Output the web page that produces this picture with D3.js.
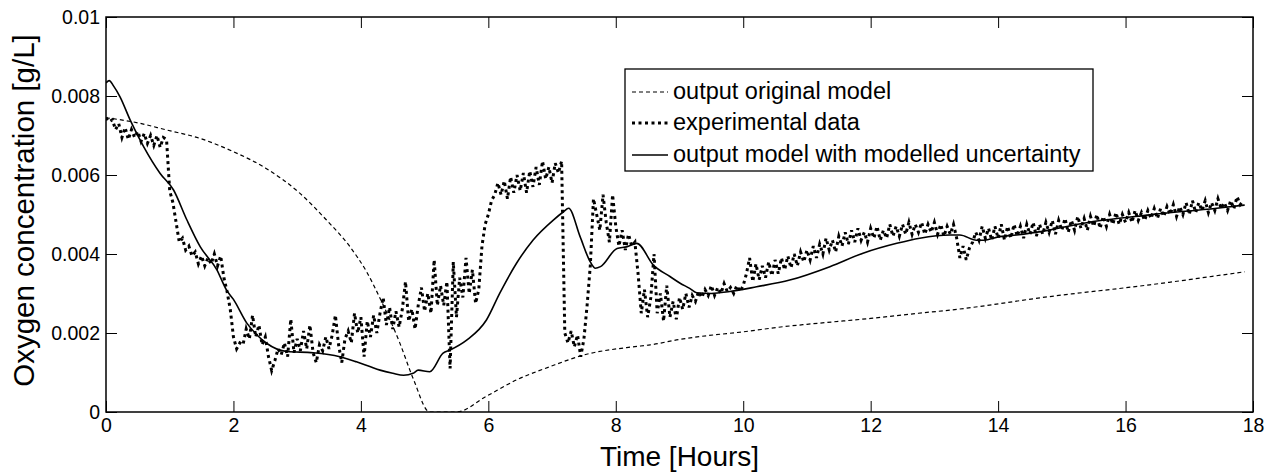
<!DOCTYPE html>
<html><head><meta charset="utf-8">
<script src="https://cdn.jsdelivr.net/npm/d3@7"></script>
<style>body{margin:0;background:#fff;} svg{display:block;font-family:"Liberation Sans",Arial,Helvetica,sans-serif;}</style>
</head><body><svg id="c" width="1279" height="475"></svg>
<script>
// ---------- data (oxygen values in units of 1e-3 g/L) ----------
const xTicks = [0, 2, 4, 6, 8, 10, 12, 14, 16, 18];
const yTicks = [0, 2, 4, 6, 8, 10];
const yTickLabels = ["0", "0.002", "0.004", "0.006", "0.008", "0.01"];
const seriesNames = ["output original model", "experimental data", "output model with modelled uncertainty"];

// output original model (dashed)
const origT = [0, 0.5, 0.95, 1.47, 2.0, 2.5, 3.04, 3.46, 3.83, 4.09, 4.3, 4.61, 4.82, 5.08, 5.5, 5.96, 6.44, 6.97, 7.49, 8.27, 8.54, 9.01, 9.32, 10.0, 10.63, 11.0, 12.0, 12.75, 13.25, 14.8, 16.38, 17.87];
const origV = [7.45, 7.32, 7.14, 6.93, 6.59, 6.18, 5.54, 4.86, 4.18, 3.55, 2.88, 1.75, 0.85, 0.0, 0.0, 0.39, 0.81, 1.15, 1.44, 1.65, 1.70, 1.84, 1.91, 2.03, 2.16, 2.22, 2.37, 2.50, 2.58, 2.92, 3.22, 3.55];

// output model with modelled uncertainty (solid)
const uncT = [0, 0.05, 0.12, 0.22, 0.38, 0.59, 0.85, 1.06, 1.27, 1.48, 1.74, 1.89, 2.0, 2.21, 2.37, 2.52, 2.84, 3.25, 3.67, 3.93, 4.14, 4.3, 4.5, 4.67, 4.82, 4.9, 5.08, 5.29, 5.4, 5.66, 5.97, 6.18, 6.44, 6.7, 7.02, 7.18, 7.26, 7.44, 7.6, 7.68, 7.76, 8.02, 8.17, 8.33, 8.59, 8.85, 9.01, 9.16, 9.27, 9.5, 9.79, 10.21, 10.73, 11.36, 11.88, 12.41, 12.77, 13.25, 13.4, 13.66, 13.77, 14.03, 14.29, 14.82, 15.34, 16.38, 17.43, 17.87];
const uncV = [8.33, 8.39, 8.25, 7.98, 7.39, 6.72, 6.04, 5.62, 4.86, 4.18, 3.60, 3.09, 2.85, 2.25, 1.95, 1.74, 1.53, 1.50, 1.40, 1.27, 1.15, 1.06, 0.98, 0.93, 0.98, 1.06, 1.02, 1.49, 1.57, 1.82, 2.33, 3.01, 3.76, 4.35, 4.86, 5.07, 5.16, 4.44, 3.80, 3.64, 3.68, 4.14, 4.18, 4.27, 3.72, 3.43, 3.26, 3.13, 3.02, 3.00, 3.05, 3.17, 3.34, 3.68, 4.02, 4.27, 4.40, 4.48, 4.48, 4.35, 4.35, 4.44, 4.48, 4.61, 4.78, 4.99, 5.16, 5.24];

// experimental data (dotted), sampled every expStep hours from t = 0
const expStep = 0.05;
const expV = [
7.45,7.35,7.40,7.15,7.30,6.95,7.20,6.90,7.15,6.95,7.10,6.85,7.05,6.80,7.00,6.75,7.00,6.70,6.95,6.90,
5.60,5.30,4.80,4.30,4.40,4.10,4.20,3.95,4.05,3.75,3.95,3.70,3.90,3.75,4.00,3.70,3.95,3.40,3.05,2.60,
1.90,1.60,1.75,1.70,2.10,1.85,2.45,1.90,2.20,1.70,1.90,1.40,1.05,1.30,1.60,1.45,1.75,1.40,2.35,1.50,
1.85,1.55,2.05,1.60,2.20,1.50,1.25,1.70,1.55,1.90,1.60,1.95,2.45,1.70,1.25,1.85,2.05,1.75,2.50,2.00,
2.40,1.40,2.30,1.90,2.45,2.00,2.50,2.90,2.20,2.65,2.10,2.55,2.15,2.60,3.30,2.30,2.60,2.10,2.70,3.15,
2.55,3.00,2.50,3.85,2.70,3.20,2.70,3.30,1.10,3.80,2.40,3.40,2.90,3.90,3.00,3.60,2.75,3.10,4.20,4.75,
5.00,5.35,5.50,5.80,5.50,5.85,5.40,5.95,5.55,6.00,5.60,6.05,5.55,6.10,5.70,6.20,5.75,6.35,5.90,6.20,
5.80,6.30,6.05,6.35,2.00,1.75,2.05,1.65,1.95,1.40,1.85,2.70,3.70,5.40,5.00,4.60,5.50,4.80,4.30,5.50,
4.70,4.20,4.60,4.10,4.50,4.20,4.30,3.50,2.50,3.10,2.40,2.90,4.00,2.50,3.00,2.30,3.20,2.40,2.80,2.35,
2.90,2.60,3.00,2.65,2.95,2.80,3.05,2.90,3.10,2.95,3.20,2.95,3.15,3.00,3.25,3.05,3.15,3.00,3.20,3.05,
3.20,3.50,3.90,3.30,3.75,3.35,3.70,3.40,3.80,3.45,3.85,3.50,3.90,3.60,3.95,3.65,4.00,3.70,4.05,3.80,
4.10,3.85,4.20,3.90,4.25,4.00,4.40,4.10,4.35,4.05,4.45,4.20,4.55,4.25,4.60,4.30,4.65,4.35,4.55,4.30,
4.65,4.40,4.70,4.35,4.60,4.40,4.75,4.45,4.70,4.45,4.75,4.50,4.80,4.50,4.75,4.55,4.80,4.50,4.75,4.55,
4.80,4.50,4.75,4.45,4.70,4.50,4.75,4.40,3.90,4.20,3.85,4.15,4.30,4.55,4.35,4.70,4.40,4.65,4.35,4.70,
4.40,4.75,4.35,4.70,4.40,4.75,4.45,4.70,4.40,4.75,4.50,4.80,4.45,4.75,4.50,4.80,4.55,4.85,4.50,4.85,
4.60,4.90,4.55,4.85,4.60,4.95,4.65,4.90,4.60,4.95,4.70,5.00,4.65,4.95,4.70,5.00,4.75,5.05,4.75,5.00,
4.80,5.05,4.80,5.10,4.85,5.05,4.85,5.10,4.90,5.15,4.90,5.15,4.95,5.20,5.00,5.25,4.95,5.20,5.00,5.30,
5.00,5.35,5.05,5.30,5.10,5.35,5.05,5.30,5.10,5.40,5.15,5.30,5.10,5.35,5.15,5.45,5.25,5.35
];

// ---------- layout ----------
const W = 1279, H = 475;
const plot = {left: 106, right: 1253, top: 17, bottom: 412};
const svg = d3.select("#c");
const x = d3.scaleLinear().domain([0, 18]).range([plot.left, plot.right]);
const y = d3.scaleLinear().domain([0, 10]).range([plot.bottom, plot.top]);
const tickLen = 11;

svg.append("rect").attr("width", W).attr("height", H).attr("fill", "#fff");

svg.append("clipPath").attr("id", "clip").append("rect")
  .attr("x", plot.left).attr("y", plot.top)
  .attr("width", plot.right - plot.left).attr("height", plot.bottom - plot.top);

const g = svg.append("g").attr("clip-path", "url(#clip)");

const origData = origT.map((t, i) => [t, origV[i]]);
const uncData = uncT.map((t, i) => [t, uncV[i]]);
const expData = expV.map((v, i) => [i * expStep, v]);

const styles = [
  {stroke: "#000", width: 1.2, dash: "4,3"},
  {stroke: "#000", width: 3, dash: "3,3.5"},
  {stroke: "#000", width: 1.6, dash: null}
];

g.append("path").datum(origData).attr("d", d3.line().x(d => x(d[0])).y(d => y(d[1])).curve(d3.curveMonotoneX))
  .attr("fill", "none").attr("stroke", styles[0].stroke).attr("stroke-width", styles[0].width).attr("stroke-dasharray", styles[0].dash);
g.append("path").datum(expData).attr("d", d3.line().x(d => x(d[0])).y(d => y(d[1])))
  .attr("fill", "none").attr("stroke", styles[1].stroke).attr("stroke-width", styles[1].width).attr("stroke-dasharray", styles[1].dash);
g.append("path").datum(uncData).attr("d", d3.line().x(d => x(d[0])).y(d => y(d[1])).curve(d3.curveMonotoneX))
  .attr("fill", "none").attr("stroke", styles[2].stroke).attr("stroke-width", styles[2].width);

// axes
const tickFont = "19.5px";
const ax = (sel) => { sel.selectAll(".domain").remove(); sel.selectAll(".tick line").attr("stroke", "#000").attr("stroke-width", 1); };

const xb = svg.append("g").attr("transform", `translate(0,${plot.bottom})`)
  .call(d3.axisBottom(x).tickValues(xTicks).tickSize(-tickLen).tickPadding(6).tickFormat(d3.format("d")));
ax(xb); xb.selectAll("text").attr("font-size", tickFont).attr("fill", "#000").attr("font-family", null);

const xt = svg.append("g").attr("transform", `translate(0,${plot.top})`)
  .call(d3.axisTop(x).tickValues(xTicks).tickSize(-tickLen).tickFormat(""));
ax(xt);

const yl = svg.append("g").attr("transform", `translate(${plot.left},0)`)
  .call(d3.axisLeft(y).tickValues(yTicks).tickSize(-tickLen).tickPadding(6).tickFormat((d, i) => yTickLabels[i]));
ax(yl); yl.selectAll("text").attr("font-size", tickFont).attr("fill", "#000").attr("font-family", null);

const yr = svg.append("g").attr("transform", `translate(${plot.right},0)`)
  .call(d3.axisRight(y).tickValues(yTicks).tickSize(-tickLen).tickFormat(""));
ax(yr);

svg.append("rect").attr("x", plot.left).attr("y", plot.top)
  .attr("width", plot.right - plot.left).attr("height", plot.bottom - plot.top)
  .attr("fill", "none").attr("stroke", "#000").attr("stroke-width", 1.5);

// axis labels
svg.append("text").attr("x", (plot.left + plot.right) / 2).attr("y", 466)
  .attr("text-anchor", "middle").attr("font-size", "28px").attr("fill", "#000").text("Time [Hours]");
svg.append("text").attr("transform", `translate(34,${(plot.top + plot.bottom) / 2 - 4}) rotate(-90)`)
  .attr("text-anchor", "middle").attr("font-size", "29.5px").attr("fill", "#000").text("Oxygen concentration [g/L]");

// legend
const leg = {x: 625, y: 69, w: 468, h: 102};
const lg = svg.append("g");
lg.append("rect").attr("x", leg.x).attr("y", leg.y).attr("width", leg.w).attr("height", leg.h)
  .attr("fill", "#fff").attr("stroke", "#000").attr("stroke-width", 1.3);
const rowY = [92, 123, 155];
seriesNames.forEach((name, i) => {
  const s = styles[i];
  lg.append("line").attr("x1", 632).attr("x2", 668).attr("y1", rowY[i]).attr("y2", rowY[i])
    .attr("stroke", s.stroke).attr("stroke-width", s.width).attr("stroke-dasharray", s.dash);
  lg.append("text").attr("x", 673).attr("y", rowY[i] + 7).attr("font-size", "23.5px").attr("fill", "#000").text(name);
});
</script>
</body></html>
